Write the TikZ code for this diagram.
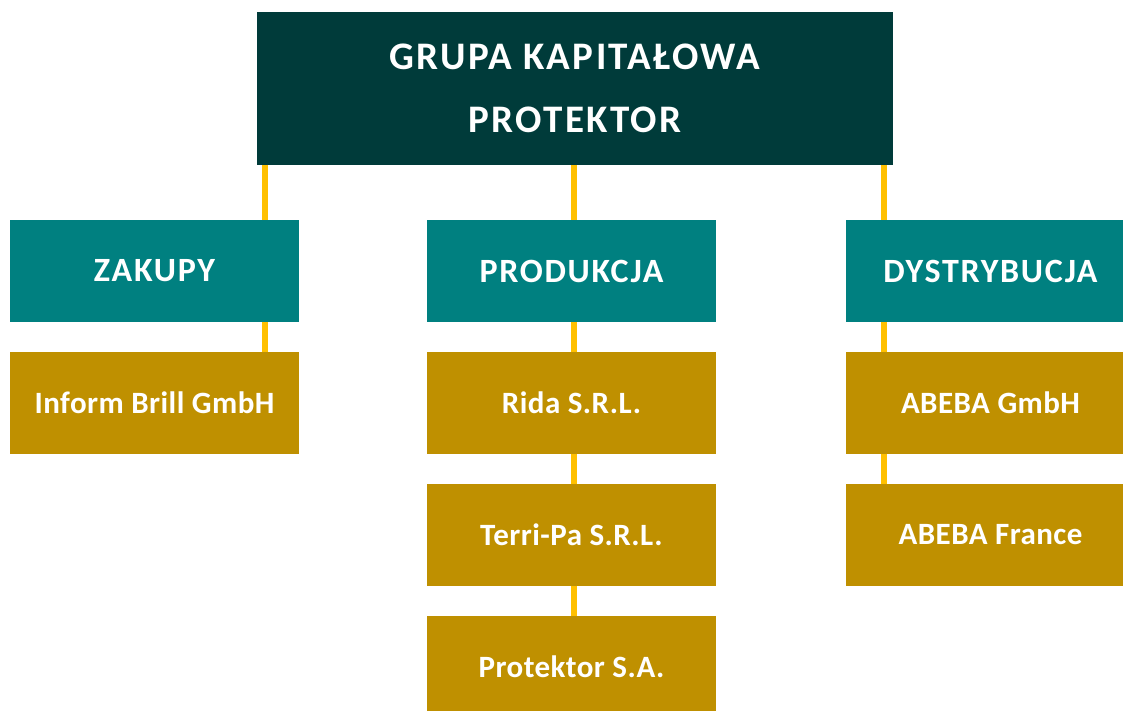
\documentclass[tikz,border=0pt]{standalone}
\usepackage{fontspec}
\setmainfont{Carlito}
\usetikzlibrary{positioning, calc}
\definecolor{topcolor}{RGB}{0,59,58}
\definecolor{catcolor}{RGB}{0,128,128}
\definecolor{firmcolor}{RGB}{191,144,0}
\definecolor{linkcolor}{RGB}{255,192,0}
\tikzset{
    topbox/.style={rectangle, fill=topcolor, text=white, outer sep=0pt,
        minimum width=636bp, minimum height=153bp, align=center,
        font=\fontsize{39bp}{63bp}\selectfont\bfseries\addfontfeature{LetterSpace=6}},
    catbox/.style={rectangle, fill=catcolor, text=white, outer sep=0pt,
        minimum width=289bp, minimum height=102bp, align=center,
        font=\fontsize{34bp}{40bp}\selectfont\bfseries\addfontfeature{LetterSpace=5}},
    firmbox/.style={rectangle, fill=firmcolor, text=white, outer sep=0pt,
        minimum width=289bp, minimum height=102bp, align=center,
        font=\fontsize{31bp}{35bp}\selectfont\bfseries\addfontfeature{LetterSpace=1.5}},
    link/.style={draw=linkcolor, line width=6bp}
}

\begin{document}
\begin{tikzpicture}[x=1bp, y=-1bp]

    \useasboundingbox[fill=white] (0,0) rectangle (1123,711);
    \clip (0,0) rectangle (1123,711);

    \node[topbox] (grupa) at (575,88.5) {GRUPA KAPITAŁOWA\\PROTEKTOR};

    \node[catbox] (zakupy) at (154.5,271) {ZAKUPY};
    \node[catbox, right=128bp of zakupy] (produkcja) {PRODUKCJA};
    \node[catbox, right=130bp of produkcja] (dystrybucja) {DYSTRYBUCJA};

    \node[firmbox, below=30bp of zakupy] (brill) {Inform Brill GmbH};
    \node[firmbox, below=30bp of produkcja] (rida) {Rida S.R.L.};
    \node[firmbox, below=30bp of rida] (terripa) {Terri-Pa S.R.L.};
    \node[firmbox, below=30bp of terripa] (protektor) {Protektor S.A.};
    \node[firmbox, below=30bp of dystrybucja] (abebade) {ABEBA GmbH};
    \node[firmbox, below=30bp of abebade] (abebafr) {ABEBA France};

    \coordinate (lx) at ([xshift=8bp]grupa.south west);
    \coordinate (mx) at ([xshift=-1.5bp]grupa.south);
    \coordinate (rx) at ([xshift=-9bp]grupa.south east);

    \draw[link] (lx) -- (lx |- zakupy.north);
    \draw[link] (mx) -- (mx |- produkcja.north);
    \draw[link] (rx) -- (rx |- dystrybucja.north);

    \draw[link] (zakupy.south -| lx) -- (brill.north -| lx);
    \draw[link] (produkcja.south -| mx) -- (rida.north -| mx);
    \draw[link] (rida.south -| mx) -- (terripa.north -| mx);
    \draw[link] (terripa.south -| mx) -- (protektor.north -| mx);
    \draw[link] (dystrybucja.south -| rx) -- (abebade.north -| rx);
    \draw[link] (abebade.south -| rx) -- (abebafr.north -| rx);

\end{tikzpicture}
\end{document}
